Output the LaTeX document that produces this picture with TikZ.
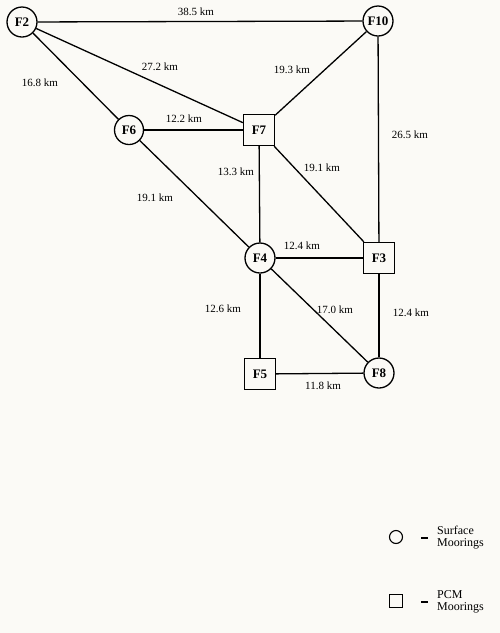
\documentclass[tikz,border=0pt]{standalone}
\usepackage{fontspec}
\setmainfont{Liberation Serif}
\definecolor{paper}{RGB}{251,250,246}
\begin{document}
\begin{tikzpicture}[x=1pt,y=-1pt,
  circ/.style={draw,circle,line width=1.3pt,minimum size=30pt,inner sep=0pt,font=\fontsize{13}{13}\selectfont\bfseries},
  sqr/.style={draw,rectangle,line width=1.3pt,minimum width=31pt,minimum height=31pt,inner sep=0pt,font=\fontsize{13}{13}\selectfont\bfseries},
  edge/.style={line width=1.3pt},
  lab/.style={font=\fontsize{11}{11}\selectfont,inner sep=1pt},
  legtext/.style={font=\fontsize{12}{12}\selectfont,align=left,inner sep=0pt,anchor=west}]
\fill[paper] (0,0) rectangle (500,633);
\useasboundingbox (0,0) rectangle (500,633);
\node[circ] (F2) at (22,22) {F2};
\node[circ] (F10) at (378,21) {F10};
\node[circ,minimum size=29pt] (F6) at (129,130) {F6};
\node[sqr] (F7) at (259,130) {F7};
\node[circ] (F4) at (260,258) {F4};
\node[sqr] (F3) at (379,258) {F3};
\node[sqr] (F5) at (260,374) {F5};
\node[circ] (F8) at (379,373) {F8};
\draw[edge] (F2) -- (F10);
\draw[edge] (F2) -- (F7);
\draw[edge] (F2) -- (F6);
\draw[edge] (F6) -- (F7);
\draw[edge] (F6) -- (F4);
\draw[edge] (F7) -- (F10);
\draw[edge] (F10) -- (F3);
\draw[edge] (F7) -- (F4);
\draw[edge] (F7) -- (F3);
\draw[edge] (F4) -- (F3);
\draw[edge] (F4) -- (F5);
\draw[edge] (F4) -- (F8);
\draw[edge] (F3) -- (F8);
\draw[edge] (F5) -- (F8);
\node[lab] (l1) at (196,12) {38.5 km};
\node[lab] (l2) at (160,67) {27.2 km};
\node[lab] (l3) at (40,83) {16.8 km};
\node[lab] (l4) at (292,70) {19.3 km};
\node[lab] (l5) at (184,119) {12.2 km};
\node[lab] (l6) at (410,135) {26.5 km};
\node[lab] (l7) at (236,172) {13.3 km};
\node[lab] (l8) at (322,168) {19.1 km};
\node[lab] (l9) at (155,198) {19.1 km};
\node[lab] (l10) at (302,246) {12.4 km};
\node[lab] (l11) at (223,309) {12.6 km};
\node[lab] (l12) at (335,310) {17.0 km};
\node[lab] (l13) at (411,313) {12.4 km};
\node[lab] (l14) at (323,386) {11.8 km};
\node[draw,circle,line width=1.1pt,minimum size=13pt,inner sep=0pt] (lc) at (396,537) {};
\draw[line width=1.1pt] (421,538) -- (428,538);
\node[legtext] (lt1) at (437,538) {Surface\\Moorings};
\node[draw,rectangle,line width=1.1pt,minimum size=13pt,inner sep=0pt] (ls) at (396,601) {};
\draw[line width=1.1pt] (421,602) -- (428,602);
\node[legtext] (lt2) at (437,602) {PCM\\Moorings};
\end{tikzpicture}
\end{document}
